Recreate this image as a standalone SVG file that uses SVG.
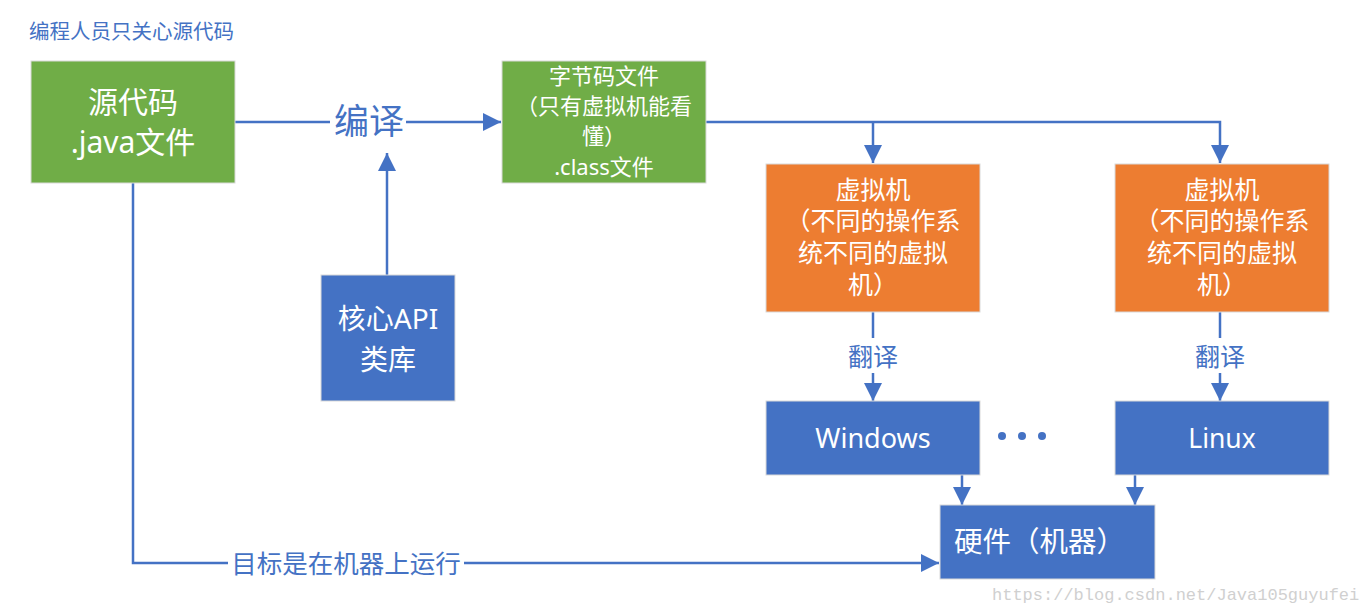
<svg xmlns="http://www.w3.org/2000/svg" width="1363" height="614" viewBox="0 0 1363 614">
<style>
text{font-family:"Noto Sans","Noto Sans CJK SC",sans-serif;}
.w{fill:#fff;text-anchor:middle;}
.b{fill:#4472C4;}
.g{fill:#70AD47;stroke:#d9d9d9;stroke-width:1;}
.o{fill:#ED7D31;stroke:#d9d9d9;stroke-width:1;}
.bl{fill:#4472C4;stroke:#d9d9d9;stroke-width:1;}
.ln{fill:none;stroke:#4472C4;stroke-width:2.5;}
</style>
<defs>
<marker id="a" viewBox="0 0 10 10" refX="10" refY="5" markerWidth="18" markerHeight="18" markerUnits="userSpaceOnUse" orient="auto">
<path d="M0,0 L10,5 L0,10 z" fill="#4472C4"/>
</marker>
</defs>
<rect width="1363" height="614" fill="#fff"/>
<text x="29" y="39" font-size="20.5" class="b">编程人员只关心源代码</text>
<g id="connectors">
<line class="ln" x1="235" y1="122" x2="330" y2="122"/>
<line class="ln" x1="406" y1="122" x2="501" y2="122" marker-end="url(#a)"/>
<line class="ln" x1="387" y1="275" x2="387" y2="153" marker-end="url(#a)"/>
<polyline class="ln" points="706,122 1220,122 1220,163" marker-end="url(#a)"/>
<line class="ln" x1="873" y1="122" x2="873" y2="163" marker-end="url(#a)"/>
<line class="ln" x1="873" y1="312" x2="873" y2="338"/>
<line class="ln" x1="873" y1="373" x2="873" y2="401" marker-end="url(#a)"/>
<line class="ln" x1="1220" y1="312" x2="1220" y2="338"/>
<line class="ln" x1="1220" y1="373" x2="1220" y2="401" marker-end="url(#a)"/>
<line class="ln" x1="962" y1="475" x2="962" y2="505" marker-end="url(#a)"/>
<line class="ln" x1="1135" y1="475" x2="1135" y2="505" marker-end="url(#a)"/>
<polyline class="ln" points="133,183 133,563 228,563"/>
<line class="ln" x1="464" y1="563" x2="939" y2="563" marker-end="url(#a)"/>
<text x="369" y="134" font-size="35" class="b" text-anchor="middle">编译</text>
<text x="873" y="366" font-size="25" class="b" text-anchor="middle">翻译</text>
<text x="1220" y="366" font-size="25" class="b" text-anchor="middle">翻译</text>
<text x="346" y="573" font-size="25.5" class="b" text-anchor="middle">目标是在机器上运行</text>
</g>
<g id="source">
<rect class="g" x="31" y="61" width="204" height="122"/>
<text class="w" x="133" y="113" font-size="30">源代码</text>
<text class="w" x="133" y="153" font-size="30">.java文件</text>
</g>
<g id="bytecode">
<rect class="g" x="502" y="61" width="204" height="122"/>
<text class="w" x="604" y="84" font-size="22">字节码文件</text>
<text class="w" x="604" y="114" font-size="22">（只有虚拟机能看</text>
<text class="w" x="604" y="144" font-size="22">懂）</text>
<text class="w" x="604" y="175" font-size="22">.class文件</text>
</g>
<g id="coreapi">
<rect class="bl" x="321" y="275" width="134" height="126"/>
<text class="w" x="388" y="329" font-size="28">核心API</text>
<text class="w" x="388" y="370" font-size="28">类库</text>
</g>
<g id="vm1">
<rect class="o" x="766" y="164" width="214" height="148"/>
<text class="w" x="873" y="199" font-size="25">虚拟机</text>
<text class="w" x="873" y="230" font-size="25">（不同的操作系</text>
<text class="w" x="873" y="262" font-size="25">统不同的虚拟</text>
<text class="w" x="873" y="294" font-size="25">机）</text>
</g>
<g id="vm2">
<rect class="o" x="1115" y="164" width="214" height="148"/>
<text class="w" x="1222" y="199" font-size="25">虚拟机</text>
<text class="w" x="1222" y="230" font-size="25">（不同的操作系</text>
<text class="w" x="1222" y="262" font-size="25">统不同的虚拟</text>
<text class="w" x="1222" y="294" font-size="25">机）</text>
</g>
<g id="windows">
<rect class="bl" x="766" y="401" width="214" height="74"/>
<text class="w" x="873" y="448" font-size="27">Windows</text>
</g>
<g id="dots">
<circle cx="1002" cy="436" r="4" fill="#4472C4"/>
<circle cx="1022" cy="436" r="4" fill="#4472C4"/>
<circle cx="1042" cy="436" r="4" fill="#4472C4"/>
</g>
<g id="linux">
<rect class="bl" x="1115" y="401" width="214" height="74"/>
<text class="w" x="1222" y="448" font-size="26.5">Linux</text>
</g>
<g id="hardware">
<rect class="bl" x="940" y="505" width="215" height="74"/>
<text x="954" y="552" font-size="28.5" fill="#fff">硬件（机器）</text>
</g>
<text x="992" y="600" font-size="17" fill="#d0d0d0" style="font-family:'Liberation Mono',monospace">https://blog.csdn.net/Java105guyufei</text>
</svg>
